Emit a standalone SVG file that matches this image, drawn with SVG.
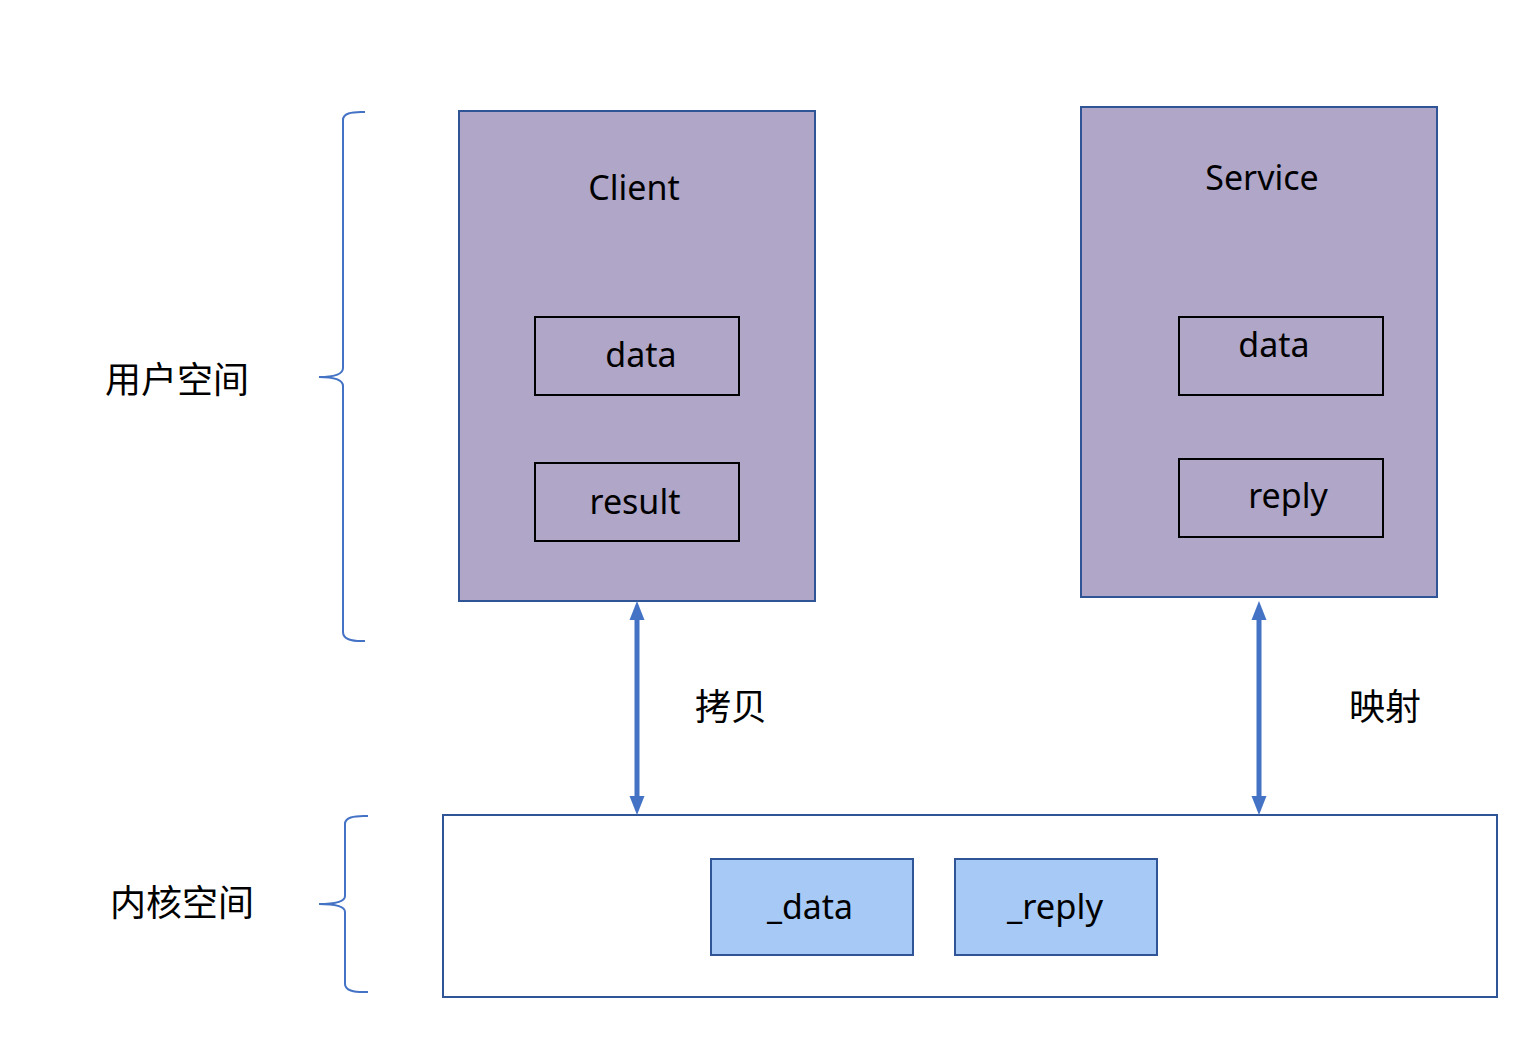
<svg xmlns="http://www.w3.org/2000/svg" width="1528" height="1040" viewBox="0 0 1528 1040">
<style>
.proc{fill:#AFA6C8;stroke:#2F5597;stroke-width:2}
.inner{fill:none;stroke:#000;stroke-width:2}
.kern{fill:#fff;stroke:#2F5597;stroke-width:2}
.buf{fill:#A6C9F5;stroke:#2F5597;stroke-width:2}
.t{font-family:"Noto Sans","Noto Sans CJK SC",sans-serif;font-size:34px;fill:#000;text-anchor:middle}
.cjk{font-family:"Noto Sans CJK SC",sans-serif;font-size:36px;fill:#000}
.brace{fill:none;stroke:#4472C4;stroke-width:2}
.conn{stroke:#4472C4;stroke-width:5;fill:none}
.head{fill:#4472C4}
</style>
<rect width="1528" height="1040" fill="#fff"/>
<g id="brace-user">
<path class="brace" d="M365,112 Q343,111 343,120 L343,368 Q343,377 319,377 Q343,377 343,386 L343,632 Q343,642 365,641"/>
</g>
<g id="brace-kernel">
<path class="brace" d="M368,816 Q345,815 345,824 L345,896 Q345,904 319,904 Q345,904 345,912 L345,984 Q345,993 368,992"/>
</g>
<g id="label-user"><text class="cjk" x="105" y="393">用户空间</text></g>
<g id="label-kernel"><text class="cjk" x="110" y="916">内核空间</text></g>
<g id="client">
<rect class="proc" x="459" y="111" width="356" height="490"/>
<text class="t" x="634" y="200">Client</text>
</g>
<g id="client-data">
<rect class="inner" x="535" y="317" width="204" height="78"/>
<text class="t" x="641" y="367">data</text>
</g>
<g id="client-result">
<rect class="inner" x="535" y="463" width="204" height="78"/>
<text class="t" x="635" y="514">result</text>
</g>
<g id="service">
<rect class="proc" x="1081" y="107" width="356" height="490"/>
<text class="t" x="1262" y="190">Service</text>
</g>
<g id="service-data">
<rect class="inner" x="1179" y="317" width="204" height="78"/>
<text class="t" x="1274" y="357">data</text>
</g>
<g id="service-reply">
<rect class="inner" x="1179" y="459" width="204" height="78"/>
<text class="t" x="1288" y="508">reply</text>
</g>
<g id="kernel">
<rect class="kern" x="443" y="815" width="1054" height="182"/>
</g>
<g id="kernel-data">
<rect class="buf" x="711" y="859" width="202" height="96"/>
<text class="t" x="810" y="919" textLength="86" lengthAdjust="spacingAndGlyphs">_data</text>
</g>
<g id="kernel-reply">
<rect class="buf" x="955" y="859" width="202" height="96"/>
<text class="t" x="1055" y="919" textLength="96" lengthAdjust="spacingAndGlyphs">_reply</text>
</g>
<g id="connectors">
<line class="conn" x1="637" y1="615" x2="637" y2="801"/>
<path class="head" d="M637,601 L644.5,620 L629.5,620 z"/>
<path class="head" d="M637,815 L644.5,796 L629.5,796 z"/>
<line class="conn" x1="1259" y1="615" x2="1259" y2="801"/>
<path class="head" d="M1259,601 L1266.5,620 L1251.5,620 z"/>
<path class="head" d="M1259,815 L1266.5,796 L1251.5,796 z"/>
</g>
<g id="conn-labels">
<text class="cjk" x="695" y="720">拷贝</text>
<text class="cjk" x="1349" y="720">映射</text>
</g>
</svg>
